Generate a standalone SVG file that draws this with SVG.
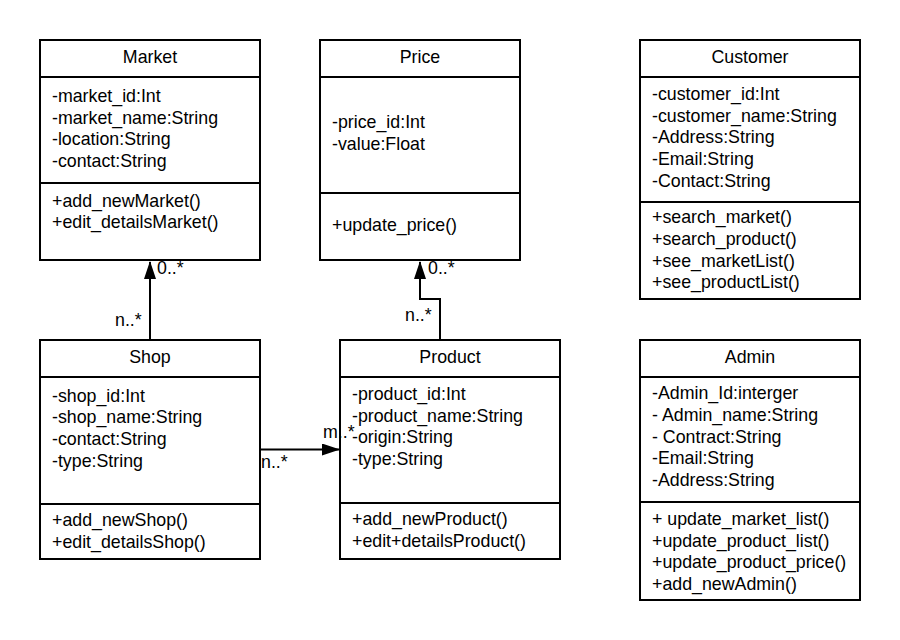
<svg xmlns="http://www.w3.org/2000/svg" width="900" height="640" viewBox="0 0 900 640">
<defs>
<style>
.box{fill:#fff;stroke:#000;stroke-width:2}
.sep{stroke:#000;stroke-width:2}
text{font-family:"Liberation Sans",Arial,sans-serif;font-size:17.8px;fill:#000}
.t{text-anchor:middle}
.conn{fill:none;stroke:#000;stroke-width:2}
.lbl{font-size:17.8px}
</style>
<marker id="arr" viewBox="0 0 18 12" refX="17" refY="6" markerWidth="18" markerHeight="12" markerUnits="userSpaceOnUse" orient="auto">
<path d="M0,0 L18,6 L0,12 Z" fill="#000"/>
</marker>
</defs>
<rect width="900" height="640" fill="#fff"/>

<g id="Market">
<rect class="box" x="40" y="40" width="220" height="220"/>
<line class="sep" x1="40" y1="77" x2="260" y2="77"/>
<line class="sep" x1="40" y1="183" x2="260" y2="183"/>
<text class="t" x="150" y="63">Market</text>
<text x="52" y="102">-market_id:Int</text>
<text x="52" y="123.5">-market_name:String</text>
<text x="52" y="145">-location:String</text>
<text x="52" y="166.7">-contact:String</text>
<text x="52" y="206.7">+add_newMarket()</text>
<text x="52" y="228.3">+edit_detailsMarket()</text>
</g>

<g id="Price">
<rect class="box" x="320" y="40" width="200" height="220"/>
<line class="sep" x1="320" y1="77" x2="520" y2="77"/>
<line class="sep" x1="320" y1="193" x2="520" y2="193"/>
<text class="t" x="420" y="63">Price</text>
<text x="332" y="128.3">-price_id:Int</text>
<text x="332" y="150">-value:Float</text>
<text x="332" y="230.7">+update_price()</text>
</g>

<g id="Customer">
<rect class="box" x="640" y="40" width="220" height="259"/>
<line class="sep" x1="640" y1="77" x2="860" y2="77"/>
<line class="sep" x1="640" y1="202" x2="860" y2="202"/>
<text class="t" x="750" y="63">Customer</text>
<text x="652" y="100">-customer_id:Int</text>
<text x="652" y="121.7">-customer_name:String</text>
<text x="652" y="143.3">-Address:String</text>
<text x="652" y="165">-Email:String</text>
<text x="652" y="186.7">-Contact:String</text>
<text x="652" y="223.3">+search_market()</text>
<text x="652" y="245">+search_product()</text>
<text x="652" y="266.7">+see_marketList()</text>
<text x="652" y="288.3">+see_productList()</text>
</g>

<g id="Shop">
<rect class="box" x="40" y="340" width="220" height="219"/>
<line class="sep" x1="40" y1="377" x2="260" y2="377"/>
<line class="sep" x1="40" y1="504" x2="260" y2="504"/>
<text class="t" x="150" y="363">Shop</text>
<text x="52" y="401.7">-shop_id:Int</text>
<text x="52" y="423.3">-shop_name:String</text>
<text x="52" y="445">-contact:String</text>
<text x="52" y="466.5">-type:String</text>
<text x="52" y="526">+add_newShop()</text>
<text x="52" y="547.5">+edit_detailsShop()</text>
</g>

<g id="Product">
<rect class="box" x="340" y="340" width="220" height="219"/>
<line class="sep" x1="340" y1="377" x2="560" y2="377"/>
<line class="sep" x1="340" y1="503" x2="560" y2="503"/>
<text class="t" x="450" y="363">Product</text>
<text x="352" y="400">-product_id:Int</text>
<text x="352" y="421.7">-product_name:String</text>
<text x="352" y="443.3">-origin:String</text>
<text x="352" y="464.5">-type:String</text>
<text x="352" y="525">+add_newProduct()</text>
<text x="352" y="546.7">+edit+detailsProduct()</text>
</g>

<g id="Admin">
<rect class="box" x="640" y="340" width="220" height="260"/>
<line class="sep" x1="640" y1="377" x2="860" y2="377"/>
<line class="sep" x1="640" y1="502" x2="860" y2="502"/>
<text class="t" x="750" y="363">Admin</text>
<text x="652" y="399.3">-Admin_Id:interger</text>
<text x="652" y="421">- Admin_name:String</text>
<text x="652" y="442.7">- Contract:String</text>
<text x="652" y="464">-Email:String</text>
<text x="652" y="485.7">-Address:String</text>
<text x="652" y="525">+ update_market_list()</text>
<text x="652" y="546.7">+update_product_list()</text>
<text x="652" y="568">+update_product_price()</text>
<text x="652" y="589.5">+add_newAdmin()</text>
</g>

<g id="connectors">
<path class="conn" d="M150,340 L150,262" marker-end="url(#arr)"/>
<path class="conn" d="M440,340 L440,299 L420,299 L420,262" marker-end="url(#arr)"/>
<path class="conn" d="M260,449.5 L339,449.5" marker-end="url(#arr)"/>
<text class="lbl" x="157" y="274">0..*</text>
<text class="lbl" x="115" y="326">n..*</text>
<text class="lbl" x="428" y="274">0..*</text>
<text class="lbl" x="405" y="321">n..*</text>
<text class="lbl" x="323" y="438">m..*</text>
<text class="lbl" x="261" y="468">n..*</text>
</g>
</svg>
